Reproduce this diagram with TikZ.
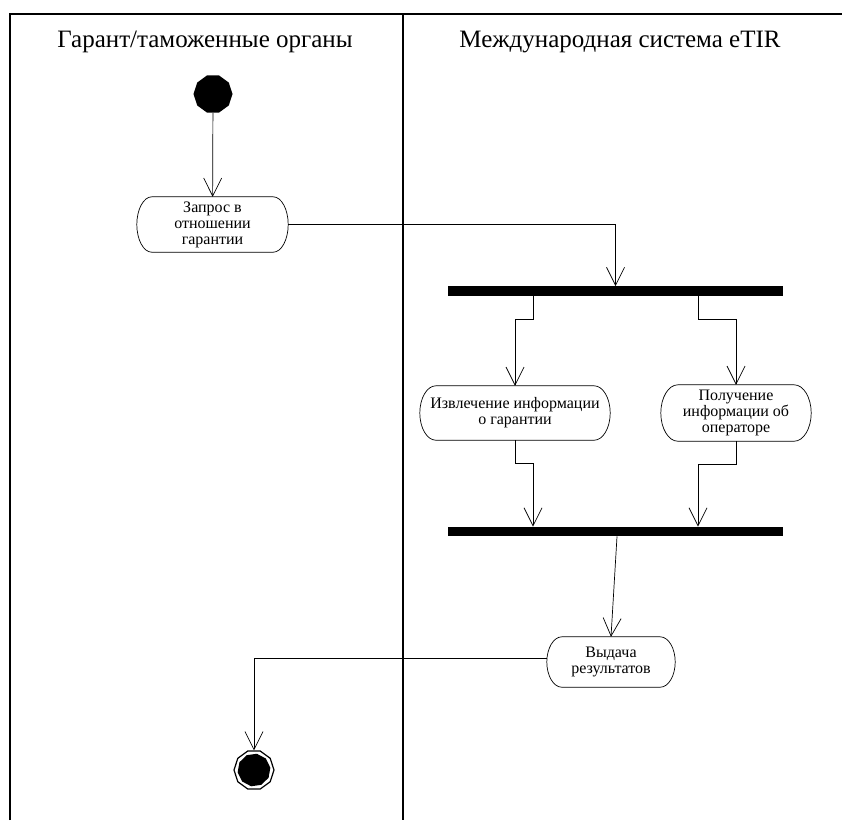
\documentclass[tikz,border=0pt]{standalone}
\usepackage{fontspec}
\setmainfont{Liberation Serif}
\usetikzlibrary{arrows.meta,shapes.geometric}
\newcommand\stadoutline[3]{%
  \draw[line width=0.7pt] ([xshift=#2]#1.north west) -- ([xshift=-#2]#1.north east)
   .. controls ([xshift=-0.45*#2]#1.north east) and ([yshift=0.55*#3]#1.east) .. (#1.east)
   .. controls ([yshift=-0.55*#3]#1.east) and ([xshift=-0.45*#2]#1.south east) .. ([xshift=-#2]#1.south east)
   -- ([xshift=#2]#1.south west)
   .. controls ([xshift=0.45*#2]#1.south west) and ([yshift=-0.55*#3]#1.west) .. (#1.west)
   .. controls ([yshift=0.55*#3]#1.west) and ([xshift=0.45*#2]#1.north west) .. cycle;}
\begin{document}
\begin{tikzpicture}[x=1pt,y=-1pt,
  lane/.style={line width=1.6pt},
  head/.style={font=\fontsize{25}{28}\selectfont, inner sep=0pt},
  act/.style={rectangle, align=center, inner sep=0pt, font=\fontsize{16}{16}\selectfont},
  bar/.style={fill=black, draw=none, rectangle, minimum width=335pt, minimum height=9.5pt, inner sep=0pt},
  arr/.style={line width=0.7pt, -{Straight Barb[length=18pt,width=18pt,line width=0.7pt]}},
  conn/.style={line width=0.7pt}]
\useasboundingbox (0,0) rectangle (842,820);
\fill[white] (0,0) rectangle (842,820);
% lanes
\draw[lane] (10,820) -- (10,14) -- (842,14);
\draw[lane] (403,14) -- (403,820);
\node[head] (h1) at (205,42) {Гарант/таможенные органы};
\node[head] (h2) at (620,42) {Международная система eTIR};
% nodes
\node[regular polygon, regular polygon sides=10, fill=black, minimum size=39pt, inner sep=0pt] (start) at (213,94) {};
\node[act, minimum width=151pt, minimum height=55pt] (a1) at (212.5,224.5) {Запрос в\\отношении\\гарантии};
\node[bar] (b1) at (615.5,291) {};
\node[act, minimum width=190pt, minimum height=54pt] (a2) at (515,413) {Извлечение информации\\о гарантии};
\node[act, minimum width=150pt, minimum height=56pt] (a3) at (736,413) {Получение\\информации об\\операторе};
\node[bar] (b2) at (615.5,531.5) {};
\node[act, minimum width=128pt, minimum height=50pt] (a4) at (611,662) {Выдача\\результатов};
\node[regular polygon, regular polygon sides=10, draw, line width=1.2pt, minimum size=40pt, inner sep=0pt] (end) at (254,770) {};
\node[regular polygon, regular polygon sides=10, fill=black, minimum size=33pt, inner sep=0pt, rotate=8] (endin) at (254,770) {};
\stadoutline{a1}{15}{27.5}
\stadoutline{a2}{16}{27}
\stadoutline{a3}{17}{28}
\stadoutline{a4}{15}{25}
% connectors
\draw[arr] (start) -- (a1);
\draw[arr] (a1.east) -| (b1.north);
\draw[arr] ([xshift=-82.5]b1.south) -- ++(0,23) -| (a2.north);
\draw[arr] ([xshift=82.5]b1.south) -- ++(0,23) -| (a3.north);
\draw[arr] (a2.south) -- ++(0,23) -| ([xshift=-82.5]b2.north);
\draw[arr] (a3.south) -- ++(0,23) -| ([xshift=82.5]b2.north);
\draw[arr] ([xshift=1.5]b2.south) -- (a4.north);
\draw[arr] ([yshift=4]a4.west) -| (end.north);
\end{tikzpicture}
\end{document}
